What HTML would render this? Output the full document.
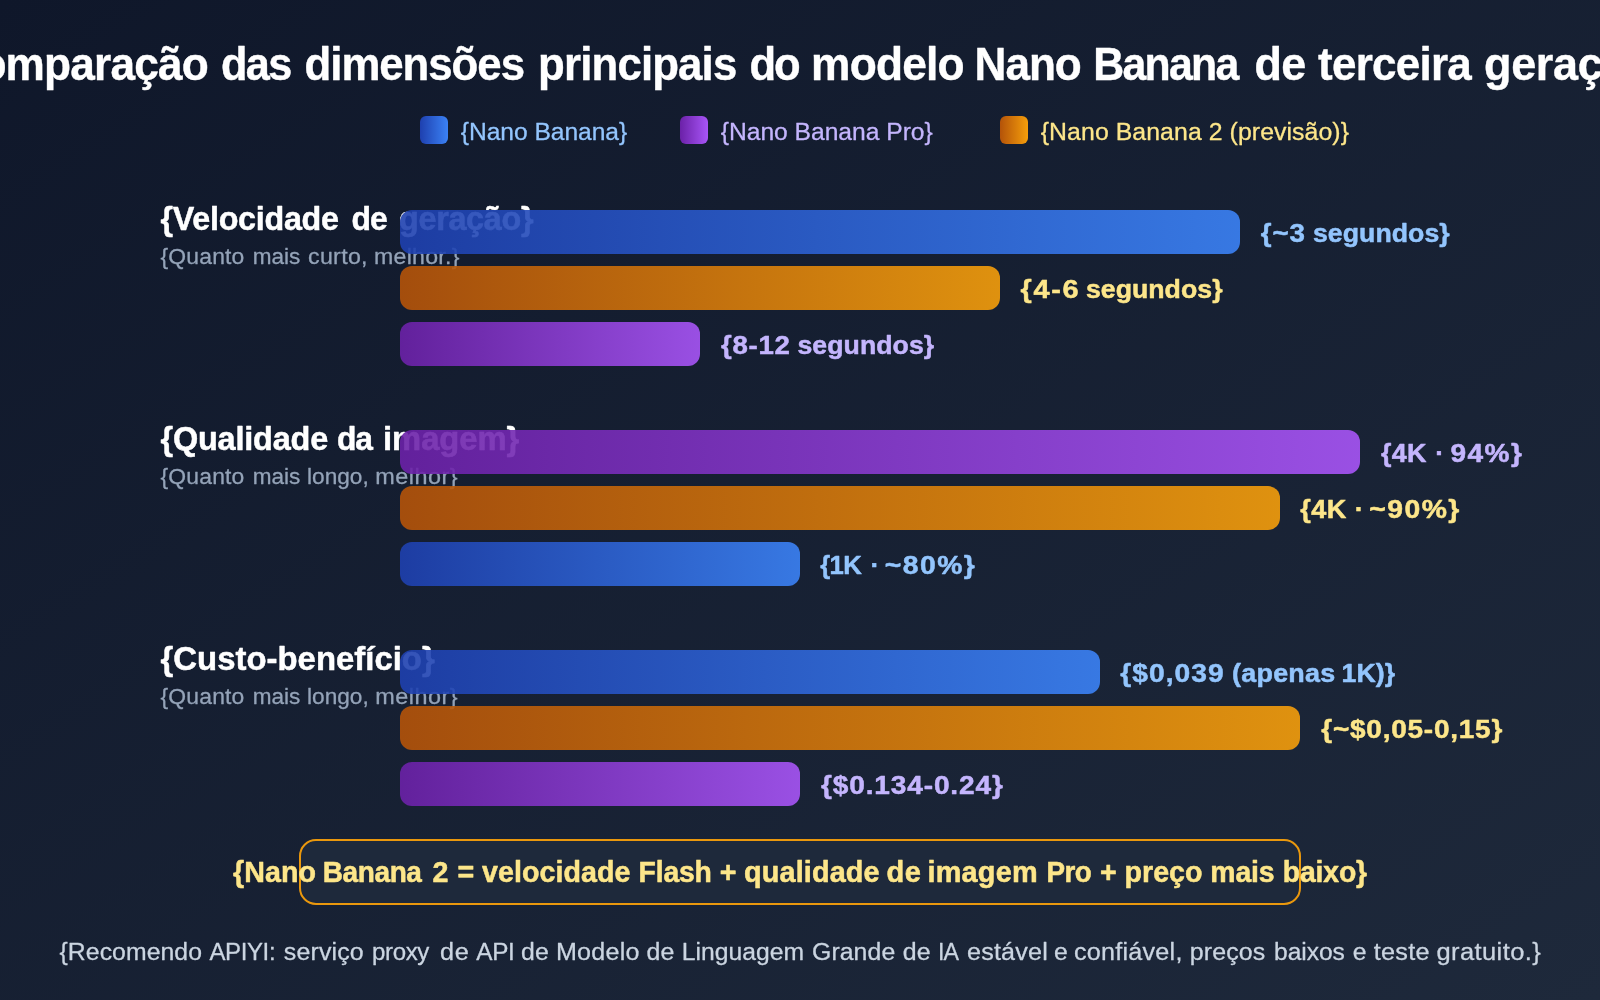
<!DOCTYPE html>
<html lang="pt"><head><meta charset="utf-8"><title>Nano Banana</title>
<style>
html,body{margin:0;padding:0;background:#0f172a;overflow:hidden}
svg{display:block;font-family:'Liberation Sans',sans-serif;will-change:transform}
text{stroke-linejoin:round;white-space:pre}
</style></head><body>
<svg width="1600" height="1000" viewBox="0 0 1600 1000">
<defs>
<linearGradient id="bg" x1="0" y1="0" x2="1" y2="1"><stop offset="0" stop-color="#0f172a"/><stop offset="1" stop-color="#1e293b"/></linearGradient>
<linearGradient id="gb" x1="0" y1="0" x2="1" y2="0"><stop offset="0" stop-color="#1e40af"/><stop offset="1" stop-color="#3b82f6"/></linearGradient>
<linearGradient id="gp" x1="0" y1="0" x2="1" y2="0"><stop offset="0" stop-color="#6b21a8"/><stop offset="1" stop-color="#a855f7"/></linearGradient>
<linearGradient id="go" x1="0" y1="0" x2="1" y2="0"><stop offset="0" stop-color="#b45309"/><stop offset="1" stop-color="#f59e0b"/></linearGradient>
</defs>
<rect width="1600" height="1000" fill="url(#bg)"/>
<text y="80" font-size="45.5" font-weight="700" fill="#ffffff" stroke="#ffffff" stroke-width="0.4"><tspan x="-48.95" letter-spacing="-2.579" textLength="52.95" lengthAdjust="spacingAndGlyphs">Co</tspan><tspan x="5.48" letter-spacing="-0.827" textLength="202.48" lengthAdjust="spacingAndGlyphs">mparação</tspan> <tspan x="221.05" letter-spacing="-1.775" textLength="69.5" lengthAdjust="spacingAndGlyphs">das</tspan> <tspan x="304.54" letter-spacing="-1.071" textLength="219.44" lengthAdjust="spacingAndGlyphs">dimensões</tspan> <tspan x="538.12" letter-spacing="-0.868" textLength="198.3" lengthAdjust="spacingAndGlyphs">principais</tspan> <tspan x="749.54" letter-spacing="-2.147" textLength="49.16" lengthAdjust="spacingAndGlyphs">do</tspan> <tspan x="811.08" letter-spacing="-0.824" textLength="152.64" lengthAdjust="spacingAndGlyphs">modelo</tspan> <tspan x="974.59" letter-spacing="-1.076" textLength="106.13" lengthAdjust="spacingAndGlyphs">Nano</tspan> <tspan x="1093.18" letter-spacing="-1.805" textLength="144.47" lengthAdjust="spacingAndGlyphs">Banana</tspan> <tspan x="1254.51" letter-spacing="-0.647" textLength="51.14" lengthAdjust="spacingAndGlyphs">de</tspan> <tspan x="1318" letter-spacing="-0.759" textLength="153.09" lengthAdjust="spacingAndGlyphs">terceira</tspan> <tspan x="1484.01" letter-spacing="-0.326" textLength="118.46" lengthAdjust="spacingAndGlyphs">geraç</tspan><tspan x="1602.49" letter-spacing="0.598" textLength="54.92" lengthAdjust="spacingAndGlyphs">ão</tspan></text>
<rect x="420" y="116" width="28" height="28" rx="6" fill="url(#gb)"/>
<text y="140" font-size="24.7" font-weight="400" fill="#93c5fd" stroke="#93c5fd" stroke-width="0.3"><tspan x="460.75" letter-spacing="-0.041" textLength="166.45" lengthAdjust="spacingAndGlyphs">{Nano Banana}</tspan></text>
<rect x="680" y="116" width="28" height="28" rx="6" fill="url(#gp)"/>
<text y="140" font-size="24.7" font-weight="400" fill="#c4b5fd" stroke="#c4b5fd" stroke-width="0.3"><tspan x="720.75" letter-spacing="-0.024" textLength="211.97" lengthAdjust="spacingAndGlyphs">{Nano Banana Pro}</tspan></text>
<rect x="1000" y="116" width="28" height="28" rx="6" fill="url(#go)"/>
<text y="140" font-size="24.7" font-weight="400" fill="#fde68a" stroke="#fde68a" stroke-width="0.3"><tspan x="1040.75" letter-spacing="0.071" textLength="308.32" lengthAdjust="spacingAndGlyphs">{Nano Banana 2 (previsão)}</tspan></text>
<text y="230" font-size="32.8" font-weight="700" fill="#ffffff" stroke="#ffffff" stroke-width="0.5"><tspan x="160.5" letter-spacing="-0.281" textLength="178.21" lengthAdjust="spacingAndGlyphs">{Velocidade</tspan> <tspan x="351.53" letter-spacing="-1.017" textLength="35.22" lengthAdjust="spacingAndGlyphs">de</tspan> <tspan x="399.01" letter-spacing="-0.289" textLength="134.22" lengthAdjust="spacingAndGlyphs">geração}</tspan></text>
<text y="264" font-size="22.6" font-weight="400" fill="#94a3b8" stroke="#94a3b8" stroke-width="0.3"><tspan x="160.5" letter-spacing="0.18" textLength="84.01" lengthAdjust="spacingAndGlyphs">{Quanto</tspan> <tspan x="252.75" letter-spacing="-0.026" textLength="47.52" lengthAdjust="spacingAndGlyphs">mais</tspan> <tspan x="308" letter-spacing="0.302" textLength="59.87" lengthAdjust="spacingAndGlyphs">curto,</tspan> <tspan x="373.98" letter-spacing="0.279" textLength="85.84" lengthAdjust="spacingAndGlyphs">melhor.}</tspan></text>
<rect x="400" y="210" width="840" height="44" rx="12" fill="url(#gb)" opacity="0.9"/>
<text y="242" font-size="26.6" font-weight="700" fill="#93c5fd" stroke="#93c5fd" stroke-width="0.5"><tspan x="1260.7" letter-spacing="0.905" textLength="45.27" lengthAdjust="spacingAndGlyphs">{~3</tspan> <tspan x="1313" letter-spacing="0.044" textLength="136.69" lengthAdjust="spacingAndGlyphs">segundos}</tspan></text>
<rect x="400" y="266" width="600" height="44" rx="12" fill="url(#go)" opacity="0.9"/>
<text y="298" font-size="26.6" font-weight="700" fill="#fde68a" stroke="#fde68a" stroke-width="0.5"><tspan x="1020.6" letter-spacing="1.501" textLength="59.49" lengthAdjust="spacingAndGlyphs">{4-6</tspan> <tspan x="1085.9" letter-spacing="0.044" textLength="136.69" lengthAdjust="spacingAndGlyphs">segundos}</tspan></text>
<rect x="400" y="322" width="300" height="44" rx="12" fill="url(#gp)" opacity="0.9"/>
<text y="354" font-size="26.6" font-weight="700" fill="#c4b5fd" stroke="#c4b5fd" stroke-width="0.5"><tspan x="721" letter-spacing="0.664" textLength="69.61" lengthAdjust="spacingAndGlyphs">{8-12</tspan> <tspan x="797.5" letter-spacing="0.044" textLength="136.69" lengthAdjust="spacingAndGlyphs">segundos}</tspan></text>
<text y="450" font-size="32.8" font-weight="700" fill="#ffffff" stroke="#ffffff" stroke-width="0.5"><tspan x="160.5" letter-spacing="-0.199" textLength="167.54" lengthAdjust="spacingAndGlyphs">{Qualidade</tspan> <tspan x="337.03" letter-spacing="-1.142" textLength="34.88" lengthAdjust="spacingAndGlyphs">da</tspan> <tspan x="383" letter-spacing="-0.037" textLength="136.22" lengthAdjust="spacingAndGlyphs">imagem}</tspan></text>
<text y="484" font-size="22.6" font-weight="400" fill="#94a3b8" stroke="#94a3b8" stroke-width="0.3"><tspan x="160.5" letter-spacing="0.18" textLength="84.01" lengthAdjust="spacingAndGlyphs">{Quanto</tspan> <tspan x="252.75" letter-spacing="-0.026" textLength="47.52" lengthAdjust="spacingAndGlyphs">mais</tspan> <tspan x="307" letter-spacing="0.022" textLength="61.8" lengthAdjust="spacingAndGlyphs">longo,</tspan> <tspan x="375.21" letter-spacing="0.474" textLength="82.81" lengthAdjust="spacingAndGlyphs">melhor}</tspan></text>
<rect x="400" y="430" width="960" height="44" rx="12" fill="url(#gp)" opacity="0.9"/>
<text y="462" font-size="26.6" font-weight="700" fill="#c4b5fd" stroke="#c4b5fd" stroke-width="0.5"><tspan x="1380.9" letter-spacing="0.303" textLength="45.86" lengthAdjust="spacingAndGlyphs">{4K</tspan> <tspan x="1435.13">·</tspan> <tspan x="1450.6" letter-spacing="1.279" textLength="72.62" lengthAdjust="spacingAndGlyphs">94%}</tspan></text>
<rect x="400" y="486" width="880" height="44" rx="12" fill="url(#go)" opacity="0.9"/>
<text y="518" font-size="26.6" font-weight="700" fill="#fde68a" stroke="#fde68a" stroke-width="0.5"><tspan x="1300.25" letter-spacing="0.403" textLength="46.37" lengthAdjust="spacingAndGlyphs">{4K</tspan> <tspan x="1354.8">·</tspan> <tspan x="1369.33" letter-spacing="1.355" textLength="91.48" lengthAdjust="spacingAndGlyphs">~90%}</tspan></text>
<rect x="400" y="542" width="400" height="44" rx="12" fill="url(#gb)" opacity="0.9"/>
<text y="574" font-size="26.6" font-weight="700" fill="#93c5fd" stroke="#93c5fd" stroke-width="0.5"><tspan x="820.25" letter-spacing="-0.722" textLength="40.75" lengthAdjust="spacingAndGlyphs">{1K</tspan> <tspan x="870.38">·</tspan> <tspan x="884.84" letter-spacing="1.343" textLength="91.37" lengthAdjust="spacingAndGlyphs">~80%}</tspan></text>
<text y="670" font-size="32.8" font-weight="700" fill="#ffffff" stroke="#ffffff" stroke-width="0.5"><tspan x="160.5" letter-spacing="0.029" textLength="274.29" lengthAdjust="spacingAndGlyphs">{Custo-benefício}</tspan></text>
<text y="704" font-size="22.6" font-weight="400" fill="#94a3b8" stroke="#94a3b8" stroke-width="0.3"><tspan x="160.5" letter-spacing="0.18" textLength="84.01" lengthAdjust="spacingAndGlyphs">{Quanto</tspan> <tspan x="252.75" letter-spacing="-0.026" textLength="47.52" lengthAdjust="spacingAndGlyphs">mais</tspan> <tspan x="307" letter-spacing="0.022" textLength="61.8" lengthAdjust="spacingAndGlyphs">longo,</tspan> <tspan x="375.21" letter-spacing="0.474" textLength="82.81" lengthAdjust="spacingAndGlyphs">melhor}</tspan></text>
<rect x="400" y="650" width="700" height="44" rx="12" fill="url(#gb)" opacity="0.9"/>
<text y="682" font-size="26.6" font-weight="700" fill="#93c5fd" stroke="#93c5fd" stroke-width="0.5"><tspan x="1120.3" letter-spacing="0.967" textLength="104.36" lengthAdjust="spacingAndGlyphs">{$0,039</tspan> <tspan x="1232.09" letter-spacing="0.215" textLength="103.33" lengthAdjust="spacingAndGlyphs">(apenas</tspan> <tspan x="1341.5" letter-spacing="0.058" textLength="53.61" lengthAdjust="spacingAndGlyphs">1K)}</tspan></text>
<rect x="400" y="706" width="900" height="44" rx="12" fill="url(#go)" opacity="0.9"/>
<text y="738" font-size="26.6" font-weight="700" fill="#fde68a" stroke="#fde68a" stroke-width="0.5"><tspan x="1321.25" letter-spacing="0.734" textLength="181.79" lengthAdjust="spacingAndGlyphs">{~$0,05-0,15}</tspan></text>
<rect x="400" y="762" width="400" height="44" rx="12" fill="url(#gp)" opacity="0.9"/>
<text y="794" font-size="26.6" font-weight="700" fill="#c4b5fd" stroke="#c4b5fd" stroke-width="0.5"><tspan x="821" letter-spacing="0.8" textLength="182.71" lengthAdjust="spacingAndGlyphs">{$0.134-0.24}</tspan></text>
<rect x="300" y="840" width="1000" height="64" rx="16" fill="#1e293b" stroke="#f59e0b" stroke-opacity="0.95" stroke-width="2"/>
<text y="882" font-size="28.6" font-weight="700" fill="#fde68a" stroke="#fde68a" stroke-width="0.5"><tspan x="233" letter-spacing="0.044" textLength="83.01" lengthAdjust="spacingAndGlyphs">{Nano</tspan> <tspan x="322.77" letter-spacing="-0.414" textLength="98.75" lengthAdjust="spacingAndGlyphs">Banana</tspan> <tspan x="432.5">2</tspan> <tspan x="457.38">=</tspan> <tspan x="482" letter-spacing="0.033" textLength="148.44" lengthAdjust="spacingAndGlyphs">velocidade</tspan> <tspan x="638.51" letter-spacing="-0.152" textLength="73.29" lengthAdjust="spacingAndGlyphs">Flash</tspan> <tspan x="719.75">+</tspan> <tspan x="743.99" letter-spacing="0.137" textLength="135.81" lengthAdjust="spacingAndGlyphs">qualidade</tspan> <tspan x="886.48" letter-spacing="0.517" textLength="34.96" lengthAdjust="spacingAndGlyphs">de</tspan> <tspan x="927.48" letter-spacing="0.211" textLength="110.42" lengthAdjust="spacingAndGlyphs">imagem</tspan> <tspan x="1046.53" letter-spacing="-0.612" textLength="44.58" lengthAdjust="spacingAndGlyphs">Pro</tspan> <tspan x="1099.88">+</tspan> <tspan x="1124.5" letter-spacing="0.013" textLength="77.98" lengthAdjust="spacingAndGlyphs">preço</tspan> <tspan x="1210.26" letter-spacing="-0.129" textLength="64.26" lengthAdjust="spacingAndGlyphs">mais</tspan> <tspan x="1282.76" letter-spacing="-0.143" textLength="84.23" lengthAdjust="spacingAndGlyphs">baixo}</tspan></text>
<text y="960" font-size="24.7" font-weight="400" fill="#cbd5e1" stroke="#cbd5e1" stroke-width="0.3"><tspan x="59.5" letter-spacing="0.062" textLength="142.55" lengthAdjust="spacingAndGlyphs">{Recomendo</tspan> <tspan x="209.5" letter-spacing="-0.387" textLength="65.68" lengthAdjust="spacingAndGlyphs">APIYI:</tspan> <tspan x="283.75" letter-spacing="0.149" textLength="80.14" lengthAdjust="spacingAndGlyphs">serviço</tspan> <tspan x="372.03" letter-spacing="-0.378" textLength="56.97" lengthAdjust="spacingAndGlyphs">proxy</tspan> <tspan x="439.98" letter-spacing="0.635" textLength="29.42" lengthAdjust="spacingAndGlyphs">de</tspan> <tspan x="476.25" letter-spacing="-0.296" textLength="38.29" lengthAdjust="spacingAndGlyphs">API</tspan> <tspan x="520.99" letter-spacing="0.135" textLength="27.87" lengthAdjust="spacingAndGlyphs">de</tspan> <tspan x="555.97" letter-spacing="0.251" textLength="83.78" lengthAdjust="spacingAndGlyphs">Modelo</tspan> <tspan x="646.49" letter-spacing="0.26" textLength="28.26" lengthAdjust="spacingAndGlyphs">de</tspan> <tspan x="681.75" letter-spacing="0.01" textLength="122.33" lengthAdjust="spacingAndGlyphs">Linguagem</tspan> <tspan x="811.99" letter-spacing="0.089" textLength="83.33" lengthAdjust="spacingAndGlyphs">Grande</tspan> <tspan x="902.74" letter-spacing="0.26" textLength="28.26" lengthAdjust="spacingAndGlyphs">de</tspan> <tspan x="938.11" letter-spacing="-1.179" textLength="19.77" lengthAdjust="spacingAndGlyphs">IA</tspan> <tspan x="966.98" letter-spacing="0.209" textLength="80.99" lengthAdjust="spacingAndGlyphs">estável</tspan> <tspan x="1054">e</tspan> <tspan x="1073.98" letter-spacing="0.226" textLength="108.65" lengthAdjust="spacingAndGlyphs">confiável,</tspan> <tspan x="1189.74" letter-spacing="0.15" textLength="75.76" lengthAdjust="spacingAndGlyphs">preços</tspan> <tspan x="1274" letter-spacing="-0.052" textLength="70.79" lengthAdjust="spacingAndGlyphs">baixos</tspan> <tspan x="1352.63">e</tspan> <tspan x="1373.75" letter-spacing="0.276" textLength="56.03" lengthAdjust="spacingAndGlyphs">teste</tspan> <tspan x="1436.47" letter-spacing="0.378" textLength="104.68" lengthAdjust="spacingAndGlyphs">gratuito.}</tspan></text>
</svg></body></html>
